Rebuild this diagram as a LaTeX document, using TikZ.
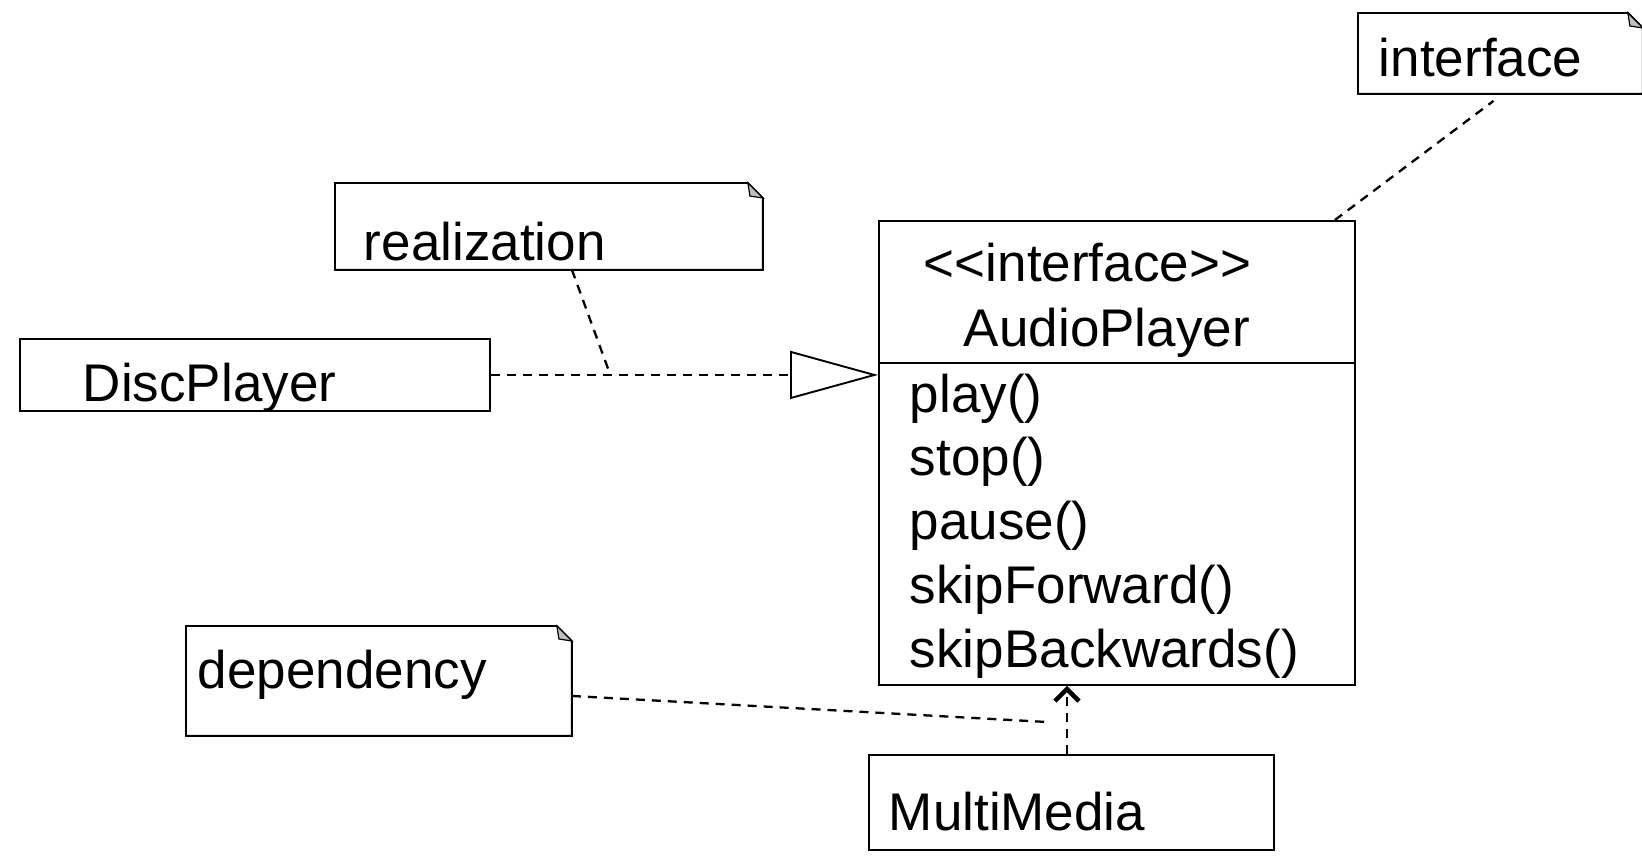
\documentclass[tikz,border=0pt]{standalone}
\usepackage{fontspec}
\setmainfont{Liberation Sans}
\usetikzlibrary{arrows.meta,calc}

\begin{document}
\begin{tikzpicture}[
  x=1pt,y=-1pt,
  line width=1.9pt,
  uml/.style={inner ysep=0pt,align=left,anchor=north west,font=\fontsize{53}{64}\selectfont},
  umlbox/.style={uml,draw},
  umlnote/.style={uml},
  oper/.style={anchor=base west,inner sep=0pt,font=\fontsize{53}{64}\selectfont},
  link/.style={line width=2.3pt,dash pattern=on 9pt off 7pt}
]
\useasboundingbox (0,0) rectangle (1642,857);

% classes
\node[draw,anchor=north west,inner sep=0pt,minimum width=476pt,minimum height=464pt] (ap) at (878,220) {};
\draw ([yshift=-143pt]ap.north west) -- ([yshift=-143pt]ap.north east);
\node[oper] (stereo) at (923,281) {<\kern0pt<interface>\kern0pt>};
\node[oper] (apname) at (963,346) {AudioPlayer};
\foreach \op [count=\i] in {play(),stop(),pause(),skipForward(),skipBackwards()}
  \node[oper] (op\i) at (909,{412+63.75*(\i-1)}) {\op};

\node[umlbox,inner xsep=63pt,text width=344pt,text height=63pt,text depth=9pt] (dp) at (19,338) {DiscPlayer};
\node[umlbox,inner xsep=20pt,text width=365pt,text height=76pt,text depth=19pt] (mm) at (868,754) {MultiMedia};

% notes
\node[umlnote,inner xsep=20pt,text width=243pt,text height=63pt,text depth=16pt] (nint) at (1358,13) {interface};
\node[umlnote,inner xsep=28pt,text width=370pt,text height=77pt,text depth=8pt] (nreal) at (335,183) {realization};
\node[umlnote,inner xsep=11pt,text width=362pt,text height=62pt,text depth=46pt] (ndep) at (186,626) {dependency};
\foreach \n in {nint,nreal,ndep} {
  \draw (\n.north west) -- ([xshift=-15pt]\n.north east) -- ([yshift=-15pt]\n.north east)
    -- (\n.south east) -- (\n.south west) -- cycle;
  \draw[fill=black!25,line width=1.2pt] ([xshift=-15pt]\n.north east) -- ([xshift=-13pt,yshift=-13pt]\n.north east)
    -- ([yshift=-15pt]\n.north east) -- cycle;
}

% connectors
\coordinate (rj) at (610,374);
\coordinate (dj) at (1047,722);
\coordinate (mmt) at ([xshift=-4.5pt]mm.north);
\draw[link,-{Triangle[open,length=88pt,width=48pt,fill=white,line width'=1.9pt]}] (dp.east) -- (dp.east -| ap.west);
\draw[link] ([xshift=23pt]nreal.south) -- (rj);
\draw[link] ([xshift=-21pt]ap.north east) -- ([xshift=-7pt,yshift=-7pt]nint.south);
\draw[link] ([yshift=-15pt]ndep.east) -- (dj);
\draw[link,-{Straight Barb[length=12pt,width=24pt,line width'=4.5pt]}] (mmt) -- (mmt |- ap.south);
\end{tikzpicture}
\end{document}
